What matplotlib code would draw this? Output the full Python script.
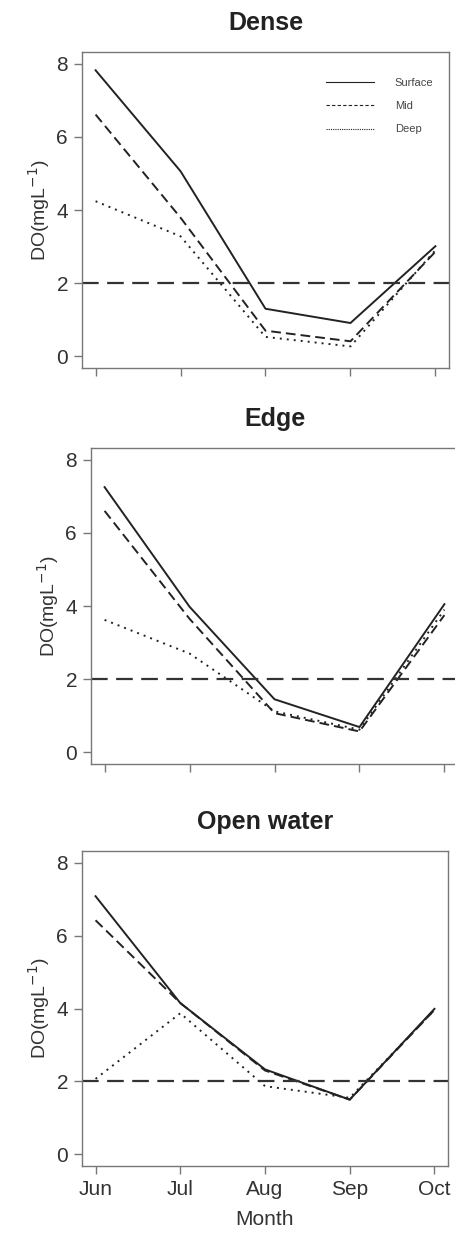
import matplotlib
matplotlib.use("Agg")
import matplotlib.pyplot as plt
from matplotlib.lines import Line2D

plt.rcParams['font.family'] = ['Liberation Sans', 'DejaVu Sans']

months = ["Jun", "Jul", "Aug", "Sep", "Oct"]
sites = ["Dense", "Edge", "Open water"]
depths = ["Surface", "Mid", "Deep"]

dense_surface = [7.82, 5.06, 1.30, 0.91, 3.01]
dense_mid = [6.61, 3.79, 0.70, 0.41, 2.86]
dense_deep = [4.24, 3.28, 0.53, 0.27, 2.90]

edge_surface = [7.25, 3.98, 1.45, 0.69, 4.05]
edge_mid = [6.60, 3.65, 1.07, 0.57, 3.75]
edge_deep = [3.62, 2.70, 1.12, 0.62, 3.90]

open_surface = [7.08, 4.15, 2.33, 1.50, 3.99]
open_mid = [6.42, 4.15, 2.30, 1.50, 3.96]
open_deep = [2.07, 3.87, 1.87, 1.55, 3.96]

threshold = 2

data = {
    "Dense": [dense_surface, dense_mid, dense_deep],
    "Edge": [edge_surface, edge_mid, edge_deep],
    "Open water": [open_surface, open_mid, open_deep],
}

W, H = 456, 1234
fig = plt.figure(figsize=(W / 100, H / 100), dpi=100)

# axes boxes in pixels: left, top, right, bottom
boxes = [(82, 52, 449, 368), (91, 448, 458, 764), (82, 851, 448, 1166)]

line_col = "#222222"
spine_col = "#777777"
styles = ["-", (0, (5, 2.6)), (0, (1, 2.6))]

for i, site in enumerate(sites):
    l, t, r, b = boxes[i]
    ax = fig.add_axes([l / W, 1 - b / H, (r - l) / W, (b - t) / H])
    x = range(len(months))
    for vals, ls in zip(data[site], styles):
        ax.plot(x, vals, color=line_col, lw=1.4, linestyle=ls)
    ax.axhline(threshold, color="#333333", lw=1.6, linestyle=(0, (7.5, 3.8)))

    ax.set_xlim(-0.16, 4.16)
    ax.set_ylim(-0.32, 8.32)
    ax.set_yticks([0, 2, 4, 6, 8])
    ax.set_xticks(list(x))
    for s in ax.spines.values():
        s.set_color(spine_col)
        s.set_linewidth(1.0)
    ax.tick_params(colors=spine_col, labelcolor="#333333", length=6, width=1.0,
                   labelsize=15, pad=4)
    ax.set_title(site, fontsize=18, fontweight="bold", color="#222222", pad=16)
    ax.set_ylabel("DO(mgL$^{-1}$)", fontsize=14, color="#333333", labelpad=3)
    if i == 2:
        ax.set_xticklabels(months)
        ax.set_xlabel("Month", fontsize=15, color="#333333", labelpad=8)
    else:
        ax.set_xticklabels([])

    if i == 0:
        handles = [Line2D([], [], color=line_col, lw=0.8, linestyle="-"),
                   Line2D([], [], color=line_col, lw=0.8, linestyle=(0, (3, 2))),
                   Line2D([], [], color=line_col, lw=0.8, linestyle=(0, (1, 1)))]
        leg = ax.legend(handles, depths, frameon=False, fontsize=8,
                        loc="upper right", bbox_to_anchor=(0.985, 0.95),
                        handlelength=4.3, handletextpad=1.9, labelspacing=1.2)
        for txt in leg.get_texts():
            txt.set_color("#444444")

fig.savefig("out.png", dpi=100)
